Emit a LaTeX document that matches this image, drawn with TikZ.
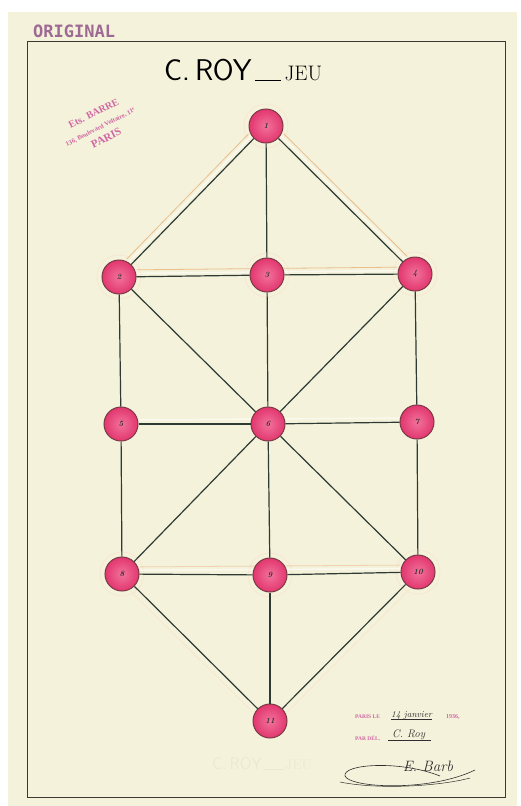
\documentclass[tikz,border=0pt]{standalone}
\usepackage{fontspec}
\usetikzlibrary{calc}
\newfontfamily\stampfont{DejaVu Sans Mono}
\newfontfamily\stampserif{Liberation Serif}
\definecolor{paper}{HTML}{F4F2DA}
\definecolor{ink}{HTML}{2E3A34}
\definecolor{rule}{HTML}{3A3A32}
\definecolor{pinkin}{HTML}{F2729C}
\definecolor{pinkout}{HTML}{E2376F}
\definecolor{pinkrim}{HTML}{7A3A46}
\definecolor{ochre}{HTML}{EBBE8E}
\definecolor{stampviolet}{HTML}{9E6A94}
\definecolor{stampmag}{HTML}{D066A4}
\definecolor{pen}{HTML}{2E2E2E}
\pgfdeclarelayer{paperlayer}
\pgfdeclarelayer{bg}
\pgfsetlayers{paperlayer,bg,main}
\tikzset{
  pt/.style={circle,minimum size=34pt,inner sep=0pt,draw=pinkrim,line width=1pt,
    inner color=pinkin,outer color=pinkout,font=\bfseries\itshape\fontsize{8}{8}\selectfont,text=pen},
  edge/.style={draw=ink,line width=1.2pt},
  ochreline/.style={draw=ochre,line width=0.8pt,shorten <=18pt,shorten >=18pt},
  whiteline/.style={draw=white,line width=1.5pt,shorten <=18pt,shorten >=18pt,opacity=0.55},
  halo/.style={draw=ochre!40,line width=0.6pt},
}
\begin{document}
\begin{tikzpicture}[x=1pt,y=-1pt]
\useasboundingbox (0,0) rectangle (520,806);
\begin{pgfonlayer}{paperlayer}
\fill[white] (0,0) rectangle (520,806);
\fill[paper] (8,12) rectangle (517,806);
\end{pgfonlayer}
\draw[rule,line width=1pt] (27,41) rectangle (505,797);

% stamps
\node[text=stampviolet,font=\stampfont\bfseries\fontsize{17}{17}\selectfont,anchor=west,inner sep=0pt] (orig) at (33,31) {ORIGINAL};
\node[text=stampmag,rotate=27,align=center,inner sep=0pt,font=\stampserif\bfseries] (stamp) at (100,126)
  {{\fontsize{10}{11}\selectfont Ets. BARRE}\\[2pt]{\fontsize{6.5}{7}\selectfont 136, Boulevard Voltaire, 11\textsuperscript{e}}\\[2pt]{\fontsize{11}{12}\selectfont PARIS}};

% title
\node[inner sep=0pt,text=black,anchor=west] (title) at (164,70)
  {{\sffamily\fontsize{30}{30}\selectfont C.\,R\kern-0.5pt OY}\kern3pt\rule{26pt}{0.9pt}\kern4pt{\fontsize{21}{21}\selectfont JEU}};

% nodes
\node[pt] (n1) at (266,126) {1};
\node[pt] (n2) at (119,277) {2};
\node[pt] (n3) at (267,275) {3};
\node[pt] (n4) at (415,274) {4};
\node[pt] (n5) at (121,424) {5};
\node[pt] (n6) at (268,424) {6};
\node[pt] (n7) at (417,422) {7};
\node[pt] (n8) at (122,574) {8};
\node[pt] (n9) at (270,575) {9};
\node[pt] (n10) at (418,572) {10};
\node[pt] (n11) at (270,721) {11};

% edges
\foreach \a/\b in {1/2,1/3,1/4,2/3,3/4,2/5,2/6,3/6,4/6,4/7,5/6,6/7,5/8,6/8,6/9,6/10,7/10,8/9,9/10,8/11,9/11,10/11}
  \draw[edge] (n\a) -- (n\b);

% construction traces
\begin{pgfonlayer}{bg}
\foreach \n in {n1,n2,n3,n4,n8,n9,n10}
  \draw[halo] (\n) circle (22pt);
\draw[whiteline] ($(n1)!3.5pt!-90:(n2)$) -- ($(n2)!3.5pt!90:(n1)$);
\draw[ochreline] ($(n1)!7pt!-90:(n2)$) -- ($(n2)!7pt!90:(n1)$);
\draw[whiteline] ($(n1)!3.5pt!90:(n4)$) -- ($(n4)!3.5pt!-90:(n1)$);
\draw[ochreline] ($(n1)!7pt!90:(n4)$) -- ($(n4)!7pt!-90:(n1)$);
\draw[whiteline] ($(n2)!3.5pt!90:(n4)$) -- ($(n4)!3.5pt!-90:(n2)$);
\draw[ochreline] ($(n2)!7pt!90:(n4)$) -- ($(n4)!7pt!-90:(n2)$);
\draw[whiteline] ($(n5)!4pt!90:(n7)$) -- ($(n7)!4pt!-90:(n5)$);
\draw[whiteline] ($(n8)!3.5pt!90:(n10)$) -- ($(n10)!3.5pt!-90:(n8)$);
\draw[ochreline,draw=ochre!70] ($(n8)!7pt!90:(n10)$) -- ($(n10)!7pt!-90:(n8)$);
\draw[ochreline,draw=ochre!40] ($(n8)!6pt!-90:(n11)$) -- ($(n11)!6pt!90:(n8)$);
\draw[ochreline,draw=ochre!40] ($(n10)!6pt!90:(n11)$) -- ($(n11)!6pt!-90:(n10)$);
\end{pgfonlayer}

% ghost text
\node[text=paper!92!black,inner sep=0pt,opacity=0.45] (ghost) at (262,764)
  {{\sffamily\fontsize{17}{17}\selectfont C.\,ROY}\,\rule{20pt}{0.6pt}\,{\fontsize{14}{14}\selectfont JEU}};

% date and signature
\node[anchor=west,inner sep=0pt,text=stampmag,font=\stampserif\bfseries\fontsize{5.5}{5.5}\selectfont] (parisle) at (355,717) {PARIS LE};
\node[anchor=west,inner sep=0pt,text=pen,font=\itshape\fontsize{9}{9}\selectfont] (date) at (391,715) {14 janvier};
\draw[pen,line width=0.5pt] (date.south west) -- (date.south east);
\node[anchor=west,inner sep=0pt,text=stampmag,font=\stampserif\bfseries\fontsize{6}{6}\selectfont] (year) at (446,717) {1936,};
\node[anchor=west,inner sep=0pt,text=stampmag,font=\stampserif\bfseries\fontsize{5.5}{5.5}\selectfont] (pardel) at (355,738) {PAR DÉL.};
\node[anchor=west,inner sep=0pt,text=pen,font=\itshape\fontsize{11}{11}\selectfont] (croy) at (392,735) {C. Roy};
\draw[pen,line width=0.5pt] ([xshift=-4pt]croy.south west) -- ([xshift=6pt]croy.south east);
\node[inner sep=0pt,text=pen,font=\itshape\fontsize{15}{15}\selectfont] (sig) at (428,766) {E. Barb};
\draw[pen,line width=0.6pt] (475,770) .. controls (430,792) and (350,788) .. (345,776)
  .. controls (342,764) and (400,760) .. (440,776);
\draw[pen,line width=0.5pt] (340,782) .. controls (380,790) and (440,786) .. (470,778);
\end{tikzpicture}
\end{document}
